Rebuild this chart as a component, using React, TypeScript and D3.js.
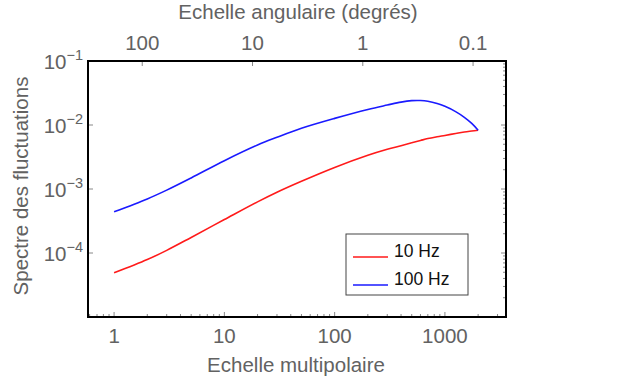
import * as d3 from 'd3';
import { useEffect, useRef } from 'react';

// multipole values (l) sampled along both curves
const multipoles = [1, 2, 3, 5, 10, 20, 30, 50, 100, 200, 300, 400, 500, 600, 700, 850, 1000, 1250, 1500, 1750, 2000];
const spectrum10Hz = [4.9e-5, 7.9e-5, 1.1e-4, 1.75e-4, 3.33e-4, 6.3e-4, 8.9e-4, 1.32e-3, 2.17e-3, 3.36e-3, 4.17e-3, 4.75e-3, 5.27e-3, 5.73e-3, 6.14e-3, 6.55e-3, 6.87e-3, 7.36e-3, 7.76e-3, 8.05e-3, 8.3e-3];
const spectrum100Hz = [4.4e-4, 7.0e-4, 9.6e-4, 1.49e-3, 2.77e-3, 4.87e-3, 6.43e-3, 8.9e-3, 1.27e-2, 1.75e-2, 2.05e-2, 2.28e-2, 2.4e-2, 2.41e-2, 2.35e-2, 2.17e-2, 1.96e-2, 1.62e-2, 1.32e-2, 1.06e-2, 8.3e-3];

const seriesNames = ['10 Hz', '100 Hz'];
const seriesColors = ['#ff1a1a', '#1a1aff'];

const bottomTicks = [1, 10, 100, 1000];
const bottomTickLabels = ['1', '10', '100', '1000'];
const topTicks = [100, 10, 1, 0.1];
const topTickLabels = ['100', '10', '1', '0.1'];
const leftTicks = [1e-1, 1e-2, 1e-3, 1e-4];
const leftTickExponents = ['−1', '−2', '−3', '−4'];

const FONT = "'Liberation Sans', Arial, Helvetica, sans-serif";
const GRAY = '#626262';

export default function App() {
  const ref = useRef<SVGSVGElement>(null);

  useEffect(() => {
    const svg = d3.select(ref.current);
    svg.selectAll('*').remove();

    const width = 622;
    const height = 388;
    const left = 88, right = 506, top = 61, bottom = 317;

    const x = d3.scaleLog().domain([0.58, 3580]).range([left, right]);
    const y = d3.scaleLog().domain([1e-5, 1e-1]).range([bottom, top]);
    // angular scale in degrees: theta = 180 / l
    const xTop = d3.scaleLog().domain([180 / 0.58, 180 / 3580]).range([left, right]);

    svg.attr('width', width).attr('height', height);

    svg.append('rect')
      .attr('width', width).attr('height', height).attr('fill', '#fff');

    // minor ticks
    const minorX: number[] = [];
    const minorY: number[] = [];
    [0.1, 1, 10, 100, 1000].forEach(d => {
      for (let k = 2; k <= 9; k++) {
        const v = k * d;
        if (v > 0.58 && v < 3580) minorX.push(v);
      }
    });
    [1e-5, 1e-4, 1e-3, 1e-2].forEach(d => {
      for (let k = 2; k <= 9; k++) minorY.push(k * d);
    });

    const ticks = svg.append('g').attr('stroke', '#888').attr('stroke-width', 1);

    ticks.selectAll('.bx-minor').data(minorX).enter().append('line')
      .attr('x1', d => x(d)).attr('x2', d => x(d))
      .attr('y1', bottom).attr('y2', bottom - 3);
    ticks.selectAll('.bx-major').data(bottomTicks).enter().append('line')
      .attr('x1', d => x(d)).attr('x2', d => x(d))
      .attr('y1', bottom).attr('y2', bottom - 5);
    ticks.selectAll('.tx-major').data(topTicks).enter().append('line')
      .attr('x1', d => xTop(d)).attr('x2', d => xTop(d))
      .attr('y1', top).attr('y2', top + 5);
    ticks.selectAll('.ly-major').data(leftTicks).enter().append('line')
      .attr('x1', left).attr('x2', left + 5)
      .attr('y1', d => y(d)).attr('y2', d => y(d));
    ticks.selectAll('.ry-minor').data(minorY).enter().append('line')
      .attr('x1', right).attr('x2', right - 3)
      .attr('y1', d => y(d)).attr('y2', d => y(d));
    ticks.selectAll('.ry-major').data(leftTicks).enter().append('line')
      .attr('x1', right).attr('x2', right - 5)
      .attr('y1', d => y(d)).attr('y2', d => y(d));

    // curves
    const line = d3.line<[number, number]>()
      .x(d => x(d[0]))
      .y(d => y(d[1]))
      .curve(d3.curveCatmullRom.alpha(0.5));

    [spectrum10Hz, spectrum100Hz].forEach((vals, i) => {
      svg.append('path')
        .datum(multipoles.map((l, j) => [l, vals[j]] as [number, number]))
        .attr('fill', 'none')
        .attr('stroke', seriesColors[i])
        .attr('stroke-width', 1.6)
        .attr('d', line);
    });

    // frame
    svg.append('rect')
      .attr('x', left).attr('y', top)
      .attr('width', right - left).attr('height', bottom - top)
      .attr('fill', 'none').attr('stroke', '#000').attr('stroke-width', 2);

    // tick labels
    const labels = svg.append('g')
      .attr('font-family', FONT).attr('fill', GRAY).attr('font-size', 20.5);

    labels.selectAll('.bl').data(bottomTicks).enter().append('text')
      .attr('x', d => x(d)).attr('y', 343)
      .attr('text-anchor', 'middle')
      .text((d, i) => bottomTickLabels[i]);

    labels.selectAll('.tl').data(topTicks).enter().append('text')
      .attr('x', d => xTop(d)).attr('y', 50)
      .attr('text-anchor', 'middle')
      .text((d, i) => topTickLabels[i]);

    const yl = labels.selectAll('.yl').data(leftTicks).enter().append('text')
      .attr('x', 83).attr('y', d => y(d) + 7.5)
      .attr('text-anchor', 'end');
    yl.append('tspan').text('10');
    yl.append('tspan')
      .attr('font-size', 14.5).attr('dy', -9)
      .text((d, i) => leftTickExponents[i]);

    // axis titles
    labels.append('text')
      .attr('x', 298).attr('y', 19)
      .attr('text-anchor', 'middle')
      .text('Echelle angulaire (degrés)');

    labels.append('text')
      .attr('x', 296).attr('y', 372)
      .attr('text-anchor', 'middle')
      .text('Echelle multipolaire');

    labels.append('text')
      .attr('transform', `translate(28,186) rotate(-90)`)
      .attr('text-anchor', 'middle')
      .text('Spectre des fluctuations');

    // legend
    const legend = svg.append('g').attr('transform', 'translate(346,234)');
    legend.append('rect')
      .attr('x', 0).attr('y', 0).attr('width', 122).attr('height', 61)
      .attr('fill', '#fff').attr('stroke', '#444').attr('stroke-width', 1);
    seriesNames.forEach((name, i) => {
      const ly = 23 + i * 28;
      legend.append('line')
        .attr('x1', 7).attr('x2', 42)
        .attr('y1', ly).attr('y2', ly)
        .attr('stroke', seriesColors[i]).attr('stroke-width', 1.6);
      legend.append('text')
        .attr('x', 48).attr('y', ly)
        .attr('font-family', FONT).attr('font-size', 17.5)
        .attr('fill', '#111')
        .text(name);
    });

    return () => {
      svg.selectAll('*').remove();
    };
  }, []);

  return <svg ref={ref} style={{ position: 'absolute', left: 0, top: 0 }}></svg>;
}
